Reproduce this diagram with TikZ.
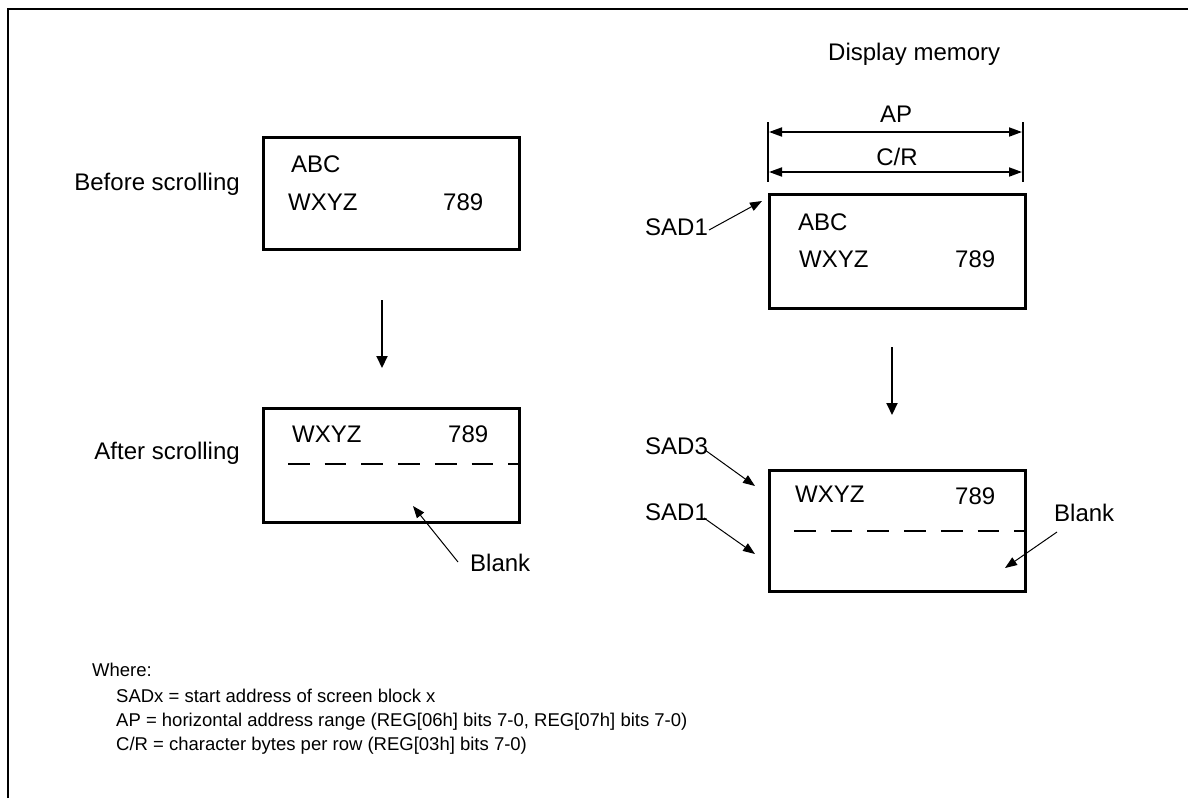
\documentclass[tikz,border=0pt]{standalone}
\usepackage{fontspec}
\setmainfont{Liberation Sans}
\usetikzlibrary{arrows.meta}
\begin{document}
\begin{tikzpicture}[x=1pt,y=-1pt,
  txt/.style={inner sep=0pt, font=\fontsize{24}{28}\selectfont},
  foot/.style={inner sep=0pt, font=\fontsize{18.5}{22}\selectfont, anchor=base west},
  scr/.style={draw, line width=2.5pt, minimum width=256pt, inner sep=0pt, anchor=north west},
  sep/.style={line width=1.2pt, dash pattern=on 21.7pt off 15pt},
  dimarr/.style={line width=1.8pt, {Triangle[length=13pt,width=9pt]}-{Triangle[length=13pt,width=9pt]}},
  tick/.style={line width=1.2pt},
  downarr/.style={line width=2pt, -{Triangle[length=12pt,width=11pt]}},
  ptr/.style={line width=1pt, -{Triangle[length=12pt,width=9pt]}}
]
\useasboundingbox (0,0) rectangle (1188,798);
% frame
\draw[line width=2pt] (8,798) -- (8,9) -- (1188,9);

% ---------- left: before scrolling ----------
\node[txt, anchor=base east] (before) at (240,190) {Before scrolling};
\node[scr, minimum height=112pt] (lt) at (262,136) {};
\node[txt, anchor=base west] (ltabc) at (291,172) {ABC};
\node[txt, anchor=base west] (ltw) at (288,210) {WXYZ};
\node[txt, anchor=base west] (lt789) at (443,210) {789};

\coordinate (la1) at (382,300);
\coordinate (la2) at (382,368);
\draw[downarr] (la1) -- (la2);

% ---------- left: after scrolling ----------
\node[txt, anchor=base east] (after) at (240,459) {After scrolling};
\node[scr, minimum height=114pt] (lb) at (262,407) {};
\coordinate (lbd1) at (288,464);
\coordinate (lbd2) at (518,464);
\draw[sep] (lbd1) -- (lbd2);
\node[txt, anchor=base west] (lbw) at (292,442) {WXYZ};
\node[txt, anchor=base west] (lb789) at (448,442) {789};
\node[txt, anchor=base west] (lbblank) at (470,571) {Blank};
\coordinate (lbbs) at (458,562);
\coordinate (lbbt) at (413,506);
\draw[ptr] (lbbs) -- (lbbt);

% ---------- right: display memory ----------
\node[txt, anchor=base west] (dm) at (828,60) {Display memory};
\node[txt, anchor=base] (ap) at (896,122) {AP};
\node[txt, anchor=base] (cr) at (897,165) {C/R};
\coordinate (tkl1) at (768,122); \coordinate (tkl2) at (768,182);
\coordinate (tkr1) at (1023,122); \coordinate (tkr2) at (1023,182);
\draw[tick] (tkl1) -- (tkl2);
\draw[tick] (tkr1) -- (tkr2);
\coordinate (apl) at (769,132); \coordinate (apr) at (1022,132);
\coordinate (crl) at (769,172); \coordinate (crr) at (1022,172);
\draw[dimarr] (apl) -- (apr);
\draw[dimarr] (crl) -- (crr);

\node[scr, minimum height=114pt] (rt) at (768,193) {};
\node[txt, anchor=base west] (rtabc) at (798,230) {ABC};
\node[txt, anchor=base west] (rtw) at (799,267) {WXYZ};
\node[txt, anchor=base west] (rt789) at (955,267) {789};
\node[txt, anchor=base west] (sad1a) at (645,235) {SAD1};
\coordinate (s1as) at (709,230);
\coordinate (s1at) at (762,201);
\draw[ptr] (s1as) -- (s1at);

\coordinate (ra1) at (892,347);
\coordinate (ra2) at (892,415);
\draw[downarr] (ra1) -- (ra2);

\node[scr, minimum height=121pt] (rb) at (768,469) {};
\coordinate (rbd1) at (794,531);
\coordinate (rbd2) at (1024,531);
\draw[sep] (rbd1) -- (rbd2);
\node[txt, anchor=base west] (rbw) at (795,502) {WXYZ};
\node[txt, anchor=base west] (rb789) at (955,504) {789};
\node[txt, anchor=base west] (sad3) at (645,454) {SAD3};
\node[txt, anchor=base west] (sad1b) at (645,520) {SAD1};
\coordinate (s3s) at (705,450); \coordinate (s3t) at (755,486);
\coordinate (s1bs) at (704,518); \coordinate (s1bt) at (755,554);
\draw[ptr] (s3s) -- (s3t);
\draw[ptr] (s1bs) -- (s1bt);
\node[txt, anchor=base west] (rbblank) at (1054,521) {Blank};
\coordinate (rbbs) at (1057,532); \coordinate (rbbt) at (1005,568);
\draw[ptr] (rbbs) -- (rbbt);

% ---------- footnote ----------
\node[foot] (where) at (92,676) {Where:};
\node[foot] (f1) at (116,702) {SADx = start address of screen block x};
\node[foot] (f2) at (116,726) {AP = horizontal address range (REG[06h] bits 7-0, REG[07h] bits 7-0)};
\node[foot] (f3) at (116,750) {C/R = character bytes per row (REG[03h] bits 7-0)};
\end{tikzpicture}
\end{document}
